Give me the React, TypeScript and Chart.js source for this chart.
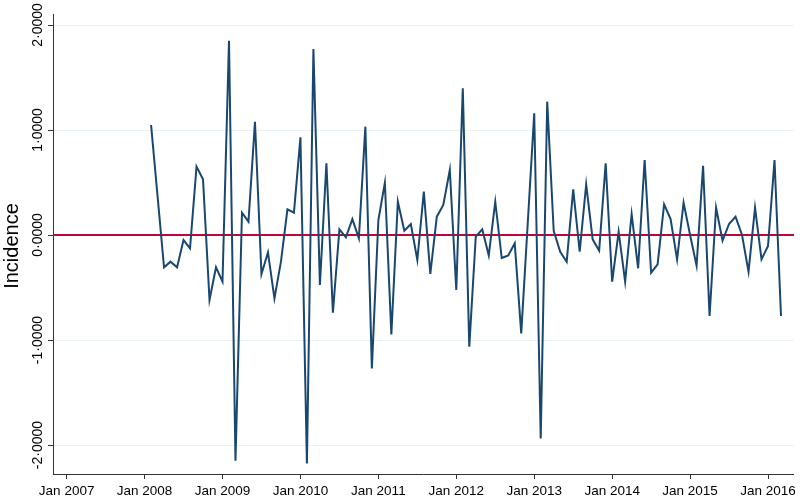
import React, { useEffect, useRef } from "react";
import { Chart, registerables } from "chart.js";

Chart.register(...registerables);

// Month index 0 = Jan 2007; series starts Feb 2008 (index 13)
const START_MONTH = 13;
const incidence: number[] = [
  1.048, 0.37, -0.308, -0.254, -0.308, -0.048, -0.127, 0.651, 0.53, -0.619, -0.308,
  -0.444, 1.851, -2.149, 0.213, 0.127, 1.079, -0.371, -0.165, -0.603, -0.254, 0.244, 0.213,
  0.93, -2.175, 1.771, -0.476, 0.683, -0.74, 0.054, -0.022, 0.152, -0.032, 1.032, -1.27,
  0.143, 0.498, -0.946, 0.317, 0.041, 0.105, -0.238, 0.413, -0.371, 0.175, 0.286, 0.619,
  -0.524, 1.397, -1.063, -0.016, 0.054, -0.194, 0.317, -0.219, -0.194, -0.079, -0.937, 0.11,
  1.159, -1.937, 1.27, 0.041, -0.159, -0.254, 0.435, -0.159, 0.483, -0.041, -0.149, 0.683,
  -0.444, 0.032, -0.444, 0.2, -0.317, 0.714, -0.359, -0.279, 0.292, 0.152, -0.232, 0.308,
  0.0, -0.292, 0.66, -0.771, 0.26, -0.054, 0.105, 0.175, 0.0, -0.349, 0.26, -0.232,
  -0.105, 0.714, -0.771,
];
const xTickValues: number[] = [0, 12, 24, 36, 48, 60, 72, 84, 96, 108];
const xTickLabels: string[] = [
  "Jan 2007", "Jan 2008", "Jan 2009", "Jan 2010", "Jan 2011",
  "Jan 2012", "Jan 2013", "Jan 2014", "Jan 2015", "Jan 2016",
];
const yTickValues: number[] = [-2, -1, 0, 1, 2];
const yTickLabels: string[] = ["-2·0000", "-1·0000", "0·0000", "1·0000", "2·0000"];
const yTitle = "Incidence";
const X_MIN = -2.1;
const X_MAX = 112;
const Y_MIN = -2.276;
const Y_MAX = 2.105;

const FONT = "'Liberation Sans', Arial, sans-serif";

const yLabelPlugin = {
  id: "yLabelPlugin",
  afterDraw(chart: any) {
    const ctx = chart.ctx;
    const y = chart.scales.y;
    ctx.save();
    ctx.fillStyle = "#000";
    ctx.font = `14px ${FONT}`;
    ctx.textAlign = "center";
    ctx.textBaseline = "alphabetic";
    yTickValues.forEach((v, i) => {
      const py = y.getPixelForValue(v);
      ctx.save();
      ctx.translate(41.5, py);
      ctx.rotate(-Math.PI / 2);
      ctx.fillText(yTickLabels[i], 0, 0);
      ctx.restore();
    });
    ctx.font = `20px ${FONT}`;
    ctx.save();
    ctx.translate(17.5, (chart.chartArea.top + chart.chartArea.bottom) / 2 + 2);
    ctx.rotate(-Math.PI / 2);
    ctx.fillText(yTitle, 0, 0);
    ctx.restore();
    ctx.restore();
  },
};

export default function App() {
  const canvasRef = useRef<HTMLCanvasElement | null>(null);

  useEffect(() => {
    const canvas = canvasRef.current;
    if (!canvas) return;
    const chart = new Chart(canvas, {
      type: "line",
      data: {
        datasets: [
          {
            label: "Incidence",
            data: incidence.map((v, i) => ({ x: START_MONTH + i, y: v })),
            borderColor: "#1a476f",
            borderWidth: 2,
            pointRadius: 0,
            tension: 0,
            order: 1,
          },
          {
            label: "zero",
            data: [
              { x: X_MIN, y: 0 },
              { x: X_MAX, y: 0 },
            ],
            borderColor: "#c10534",
            borderWidth: 2,
            pointRadius: 0,
            order: 2,
          },
        ],
      },
      options: {
        animation: false,
        responsive: false,
        maintainAspectRatio: false,
        layout: { padding: { top: 14, right: 6, left: 0, bottom: 0 } },
        plugins: { legend: { display: false }, tooltip: { enabled: false } },
        scales: {
          x: {
            type: "linear",
            min: X_MIN,
            max: X_MAX,
            afterBuildTicks: (scale: any) => {
              scale.ticks = xTickValues.map((v) => ({ value: v }));
            },
            afterFit: (scale: any) => {
              scale.height = 25;
            },
            ticks: {
              autoSkip: false,
              maxRotation: 0,
              minRotation: 0,
              color: "#000",
              padding: 4,
              font: { family: FONT, size: 13.5 },
              callback: (v: any) => {
                const i = xTickValues.indexOf(Number(v));
                return i >= 0 ? xTickLabels[i] : "";
              },
            },
            grid: {
              drawOnChartArea: false,
              drawTicks: true,
              tickLength: 5,
              tickColor: "#333",
            },
            border: { display: true, color: "#333", width: 1 },
          },
          y: {
            type: "linear",
            min: Y_MIN,
            max: Y_MAX,
            afterBuildTicks: (scale: any) => {
              scale.ticks = yTickValues.map((v) => ({ value: v }));
            },
            afterFit: (scale: any) => {
              scale.width = 53;
            },
            ticks: {
              display: false,
            },
            grid: {
              drawOnChartArea: true,
              color: "#eaf2f3",
              lineWidth: 1,
              drawTicks: true,
              tickLength: 5,
              tickColor: "#333",
            },
            border: { display: true, color: "#333", width: 1 },
          },
        },
      },
      plugins: [yLabelPlugin],
    });
    return () => chart.destroy();
  }, []);

  return (
    <div style={{ position: "fixed", left: 0, top: 0, width: 800, height: 499, background: "#fff" }}>
      <canvas ref={canvasRef} width={800} height={499} style={{ display: "block", width: 800, height: 499 }} />
    </div>
  );
}
